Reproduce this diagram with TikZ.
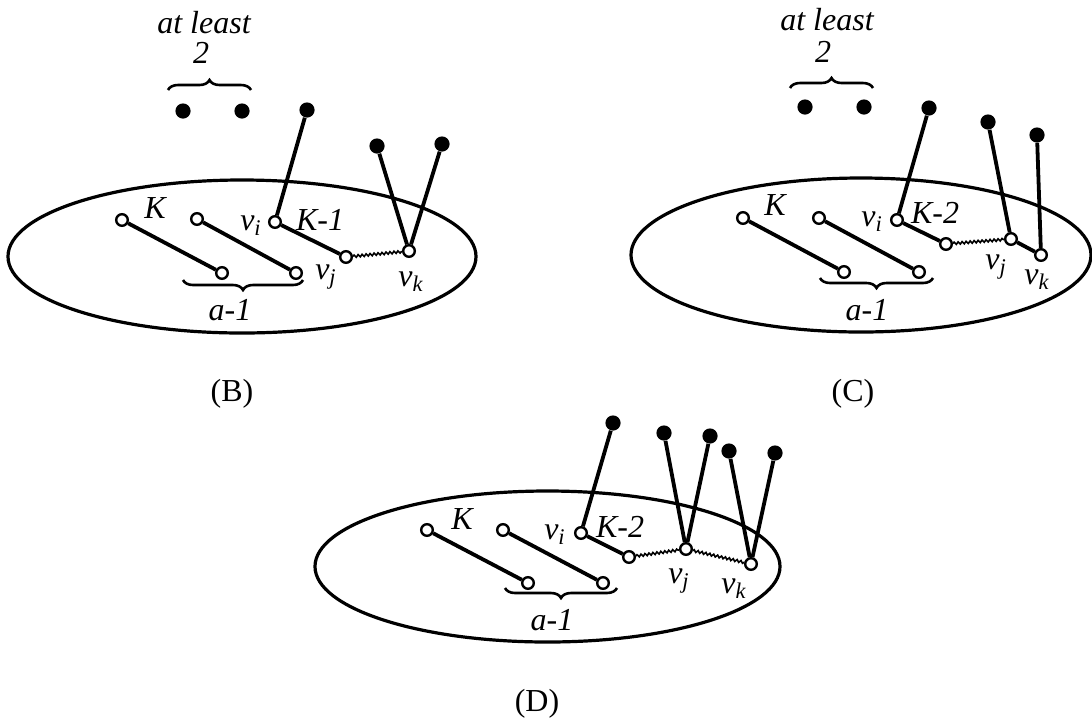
\documentclass[tikz,border=0pt]{standalone}
\usepackage{fontspec}
\setmainfont{Liberation Serif}
\usetikzlibrary{decorations.pathmorphing,decorations.pathreplacing}
\begin{document}
\begin{tikzpicture}[x=0.5pt,y=-0.5pt,
  opn/.style={circle,draw,fill=white,line width=1.2pt,inner sep=0pt,minimum size=5.8pt},
  blk/.style={circle,fill=black,inner sep=0pt,minimum size=7.6pt},
  seg/.style={line width=1.9pt},
  wavy/.style={line width=0.8pt,decorate,decoration={snake,amplitude=0.6pt,segment length=2pt}},
  oval/.style={line width=1.6pt},
  lbl/.style={font=\fontsize{16}{19}\selectfont\itshape,inner sep=0pt},
  captxt/.style={font=\fontsize{16}{19}\selectfont,inner sep=0pt},
  brc/.style={line width=1.3pt,decorate,decoration={brace,amplitude=5pt}}]
\useasboundingbox (0,0) rectangle (1092,719);

% ===== Panel B =====
\draw[oval] (242,256.5) ellipse [x radius=234, y radius=76.5];
\node[lbl] (Bat) at (204,23) {at least};
\node[lbl] (Btwo) at (201,53) {2};
\coordinate (Bbl) at (168,90); \coordinate (Bbr) at (251,90);
\draw[brc] (Bbl) -- (Bbr);
\node[blk] (Bd1) at (183,111) {};
\node[blk] (Bd2) at (242,111) {};
\node[blk] (Bd3) at (307,110) {};
\node[blk] (Bd4) at (377,146) {};
\node[blk] (Bd5) at (442,144) {};
\node[opn] (Ba1) at (122,220) {};
\node[opn] (Ba2) at (222,273) {};
\node[opn] (Bb1) at (197,219) {};
\node[opn] (Bb2) at (296,273) {};
\node[opn] (Bvi) at (275,222) {};
\node[opn] (Bm) at (346,257) {};
\node[opn] (Bvk) at (409,251) {};
\draw[seg] (Ba1) -- (Ba2);
\draw[seg] (Bb1) -- (Bb2);
\draw[seg] (Bvi) -- (Bd3);
\draw[seg] (Bvi) -- (Bm);
\draw[wavy] (Bm) -- (Bvk);
\draw[seg] (Bvk) -- (Bd4);
\draw[seg] (Bvk) -- (Bd5);
\node[lbl] (BK) at (155,208) {K};
\node[lbl] (Bvil) at (251,226) {v\textsubscript{i}};
\node[lbl] (BK1) at (320,220) {K-1};
\node[lbl] (Bvjl) at (326,277) {v\textsubscript{j}};
\node[lbl] (Bvkl) at (411,282) {v\textsubscript{k}};
\coordinate (Bcl) at (183,280); \coordinate (Bcr) at (303,280);
\draw[brc] (Bcr) -- (Bcl);
\node[lbl] (Ba) at (230,310) {a-1};
\node[captxt] (Bcap) at (232,394) {(B)};

% ===== Panel C =====
\draw[oval] (861,255) ellipse [x radius=230, y radius=77];
\node[lbl] (Cat) at (827,20) {at least};
\node[lbl] (Ctwo) at (823,52) {2};
\coordinate (Cbl) at (790,88); \coordinate (Cbr) at (873,88);
\draw[brc] (Cbl) -- (Cbr);
\node[blk] (Cd1) at (805,107) {};
\node[blk] (Cd2) at (864,107) {};
\node[blk] (Cd3) at (929,108) {};
\node[blk] (Cd4) at (988,122) {};
\node[blk] (Cd5) at (1037,135) {};
\node[opn] (Ca1) at (743,218) {};
\node[opn] (Ca2) at (844,272) {};
\node[opn] (Cb1) at (819,218) {};
\node[opn] (Cb2) at (919,272) {};
\node[opn] (Cvi) at (897,220) {};
\node[opn] (Cm) at (946,244) {};
\node[opn] (Cvj) at (1011,239) {};
\node[opn] (Cvk) at (1041,255) {};
\draw[seg] (Ca1) -- (Ca2);
\draw[seg] (Cb1) -- (Cb2);
\draw[seg] (Cvi) -- (Cd3);
\draw[seg] (Cvi) -- (Cm);
\draw[wavy] (Cm) -- (Cvj);
\draw[seg] (Cvj) -- (Cd4);
\draw[seg] (Cvj) -- (Cvk);
\draw[seg] (Cvk) -- (Cd5);
\node[lbl] (CK) at (775,205) {K};
\node[lbl] (Cvil) at (872,222) {v\textsubscript{i}};
\node[lbl] (CK2) at (935,213) {K-2};
\node[lbl] (Cvjl) at (996,267) {v\textsubscript{j}};
\node[lbl] (Cvkl) at (1037,280) {v\textsubscript{k}};
\coordinate (Ccl) at (820,278); \coordinate (Ccr) at (933,278);
\draw[brc] (Ccr) -- (Ccl);
\node[lbl] (Ca) at (867,310) {a-1};
\node[captxt] (Ccap) at (853,394) {(C)};

% ===== Panel D =====
\draw[oval] (547.5,566.5) ellipse [x radius=232.5, y radius=75.5];
\node[blk] (Dd1) at (613,423) {};
\node[blk] (Dd2) at (664,433) {};
\node[blk] (Dd3) at (710,436) {};
\node[blk] (Dd4) at (729,451) {};
\node[blk] (Dd5) at (775,453) {};
\node[opn] (Da1) at (427,530) {};
\node[opn] (Da2) at (528,583) {};
\node[opn] (Db1) at (503,530) {};
\node[opn] (Db2) at (603,583) {};
\node[opn] (Dvi) at (581,533) {};
\node[opn] (Dm) at (629,557) {};
\node[opn] (Dvj) at (686,549) {};
\node[opn] (Dvk) at (751,564) {};
\draw[seg] (Da1) -- (Da2);
\draw[seg] (Db1) -- (Db2);
\draw[seg] (Dvi) -- (Dd1);
\draw[seg] (Dvi) -- (Dm);
\draw[wavy] (Dm) -- (Dvj);
\draw[seg] (Dvj) -- (Dd2);
\draw[seg] (Dvj) -- (Dd3);
\draw[wavy] (Dvj) -- (Dvk);
\draw[seg] (Dvk) -- (Dd4);
\draw[seg] (Dvk) -- (Dd5);
\node[lbl] (DK) at (462,519) {K};
\node[lbl] (Dvil) at (555,535) {v\textsubscript{i}};
\node[lbl] (DK2) at (620,527) {K-2};
\node[lbl] (Dvjl) at (679,581) {v\textsubscript{j}};
\node[lbl] (Dvkl) at (734,589) {v\textsubscript{k}};
\coordinate (Dcl) at (505,588); \coordinate (Dcr) at (617,588);
\draw[brc] (Dcr) -- (Dcl);
\node[lbl] (Da) at (552,620) {a-1};
\node[captxt] (Dcap) at (537,704) {(D)};
\end{tikzpicture}
\end{document}
